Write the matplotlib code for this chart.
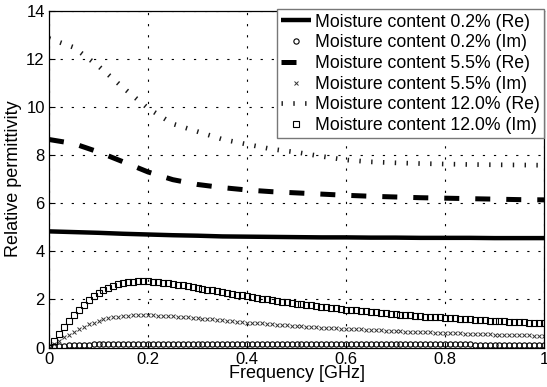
import numpy as np
import matplotlib
matplotlib.use("Agg")
import matplotlib.pyplot as plt

plt.rcParams['font.family'] = ['Liberation Sans', 'DejaVu Sans']

# Frequency grids [GHz]
freq_im = np.round(np.arange(101) * 0.01, 2)
freq_re = np.round(np.arange(21) * 0.05, 2)

# Real parts (sampled every 0.05 GHz)
re_02 = [4.83, 4.80, 4.77, 4.73, 4.70, 4.67, 4.65, 4.62, 4.61, 4.60, 4.59,
         4.58, 4.58, 4.57, 4.57, 4.56, 4.56, 4.56, 4.55, 4.55, 4.55]
re_55 = [8.65, 8.48, 8.13, 7.72, 7.30, 6.98, 6.78, 6.65, 6.55, 6.48, 6.43,
         6.38, 6.33, 6.29, 6.26, 6.23, 6.21, 6.19, 6.17, 6.15, 6.14]
re_120 = [12.85, 12.48, 11.70, 10.80, 9.95, 9.30, 8.98, 8.66, 8.45, 8.25, 8.12,
          7.95, 7.80, 7.72, 7.68, 7.65, 7.63, 7.61, 7.60, 7.59, 7.58]

# Imaginary parts (sampled every 0.01 GHz)
im_02 = [0.03, 0.05, 0.07, 0.08, 0.09, 0.10, 0.11, 0.12, 0.12, 0.13,
         0.13, 0.14, 0.14, 0.14, 0.14, 0.14, 0.15, 0.15, 0.15, 0.15,
         0.15, 0.15, 0.15, 0.15, 0.15, 0.15, 0.15, 0.15, 0.15, 0.15,
         0.15, 0.15, 0.15, 0.15, 0.15, 0.15, 0.15, 0.15, 0.15, 0.15,
         0.15, 0.15, 0.15, 0.15, 0.15, 0.15, 0.14, 0.14, 0.14, 0.14,
         0.14, 0.14, 0.14, 0.14, 0.14, 0.14, 0.14, 0.14, 0.14, 0.14,
         0.14, 0.14, 0.14, 0.14, 0.14, 0.14, 0.13, 0.13, 0.13, 0.13,
         0.13, 0.13, 0.13, 0.13, 0.13, 0.13, 0.13, 0.13, 0.13, 0.13,
         0.13, 0.13, 0.13, 0.13, 0.13, 0.13, 0.12, 0.12, 0.12, 0.12,
         0.12, 0.12, 0.12, 0.12, 0.12, 0.12, 0.12, 0.12, 0.12, 0.12,
         0.12]
im_55 = [0.00, 0.14, 0.28, 0.42, 0.54, 0.66, 0.77, 0.87, 0.96, 1.04,
         1.11, 1.17, 1.22, 1.25, 1.29, 1.31, 1.33, 1.34, 1.35, 1.35,
         1.35, 1.34, 1.33, 1.32, 1.31, 1.30, 1.28, 1.27, 1.25, 1.23,
         1.22, 1.20, 1.18, 1.17, 1.15, 1.13, 1.11, 1.10, 1.08, 1.06,
         1.04, 1.03, 1.01, 1.00, 0.98, 0.97, 0.95, 0.94, 0.92, 0.91,
         0.90, 0.88, 0.87, 0.86, 0.84, 0.83, 0.82, 0.81, 0.80, 0.79,
         0.78, 0.77, 0.76, 0.75, 0.74, 0.73, 0.72, 0.71, 0.70, 0.69,
         0.68, 0.67, 0.66, 0.66, 0.65, 0.64, 0.63, 0.63, 0.62, 0.61,
         0.61, 0.60, 0.59, 0.59, 0.58, 0.57, 0.57, 0.56, 0.56, 0.55,
         0.54, 0.54, 0.53, 0.53, 0.52, 0.52, 0.51, 0.51, 0.50, 0.50,
         0.49]
im_120 = [0.00, 0.29, 0.57, 0.85, 1.11, 1.35, 1.58, 1.78, 1.97, 2.13,
          2.27, 2.39, 2.48, 2.56, 2.63, 2.68, 2.71, 2.73, 2.75, 2.75,
          2.75, 2.74, 2.72, 2.70, 2.68, 2.65, 2.62, 2.59, 2.56, 2.52,
          2.49, 2.45, 2.41, 2.38, 2.34, 2.31, 2.27, 2.24, 2.20, 2.17,
          2.13, 2.10, 2.07, 2.03, 2.00, 1.97, 1.94, 1.91, 1.88, 1.85,
          1.83, 1.80, 1.77, 1.75, 1.72, 1.70, 1.67, 1.65, 1.63, 1.61,
          1.58, 1.56, 1.54, 1.52, 1.50, 1.48, 1.46, 1.44, 1.43, 1.41,
          1.39, 1.37, 1.36, 1.34, 1.33, 1.31, 1.29, 1.28, 1.27, 1.25,
          1.24, 1.22, 1.21, 1.20, 1.18, 1.17, 1.16, 1.15, 1.14, 1.12,
          1.11, 1.10, 1.09, 1.08, 1.07, 1.06, 1.05, 1.04, 1.03, 1.02,
          1.01]

labels = ["Moisture content 0.2% (Re)", "Moisture content 0.2% (Im)",
          "Moisture content 5.5% (Re)", "Moisture content 5.5% (Im)",
          "Moisture content 12.0% (Re)", "Moisture content 12.0% (Im)"]
xticks = [0, 0.2, 0.4, 0.6, 0.8, 1]
xticklabels = ["0", "0.2", "0.4", "0.6", "0.8", "1"]
yticks = [0, 2, 4, 6, 8, 10, 12, 14]

fig = plt.figure(figsize=(5.47, 3.87), dpi=100)
ax = fig.add_axes([0.0896, 0.102, 0.905, 0.870])

ax.plot(freq_re, re_02, color='black', lw=3.2, solid_capstyle='butt', label=labels[0])
ax.plot(freq_im, im_02, ls='none', marker='o', ms=3.8, mfc='none', mec='black', mew=0.8, label=labels[1])
ax.plot(freq_re, re_55, color='black', lw=3.6, ls=(0, (3, 3.2)), dash_capstyle='butt', label=labels[2])
ax.plot(freq_im, im_55, ls='none', marker='x', ms=3.0, mec='#333333', mew=0.7, label=labels[3])
ax.plot(freq_re, re_120, color='#1a1a1a', lw=3.4, ls=(0, (0.3, 2.2)), dash_capstyle='butt', label=labels[4])
ax.plot(freq_im, im_120, ls='none', marker='s', ms=3.8, mfc='none', mec='black', mew=0.8, label=labels[5])

ax.set_xlim(0, 1)
ax.set_ylim(0, 14)
ax.set_xticks(xticks)
ax.set_xticklabels(xticklabels)
ax.set_yticks(yticks)
ax.tick_params(direction='in', length=4, width=0.8, labelsize=12, pad=3)
ax.grid(True, color='black', ls=(0, (2, 8)), lw=0.8)
for s in ax.spines.values():
    s.set_linewidth(0.9)
    s.set_color('black')

ax.set_xlabel("Frequency [GHz]", fontsize=13, labelpad=-1)
ax.set_ylabel("Relative permittivity", fontsize=13, labelpad=3)

leg = ax.legend(loc='upper right', bbox_to_anchor=(1.0, 1.005), fontsize=12.7,
                frameon=True, fancybox=False, edgecolor='#777777', framealpha=1,
                handlelength=1.7, handletextpad=0.2, labelspacing=0.21,
                borderpad=0.25, borderaxespad=0)
leg.get_frame().set_linewidth(1.0)

fig.savefig("out.png", dpi=100)
